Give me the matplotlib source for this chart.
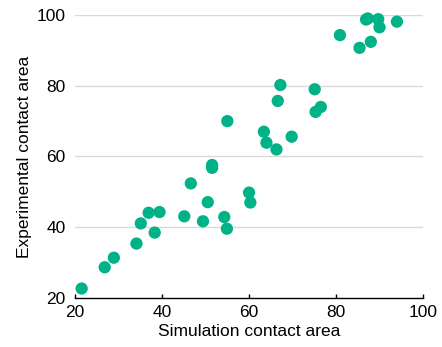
import matplotlib.pyplot as plt

plt.rcParams['font.family'] = ['Liberation Sans', 'DejaVu Sans']

# simulation vs experiment contact areas
sim_area = [21.5, 26.8, 28.9, 34.1, 35.1, 36.9, 38.3, 39.4, 45.1, 46.6,
            49.4, 50.5, 51.5, 51.5, 54.3, 54.9, 55.0, 60.0, 60.3, 63.4,
            64.0, 66.3, 66.6, 67.2, 69.8, 75.1, 75.3, 76.5, 80.9, 85.4,
            86.9, 87.3, 88.0, 89.7, 90.0, 94.0]
exp_area = [22.7, 28.7, 31.4, 35.4, 41.1, 44.1, 38.5, 44.3, 43.1, 52.4,
            41.7, 47.1, 57.6, 56.8, 42.9, 39.6, 70.0, 49.8, 47.0, 67.0,
            63.9, 62.0, 75.7, 80.2, 65.6, 79.0, 72.6, 74.0, 94.3, 90.7,
            98.7, 99.0, 92.4, 98.8, 96.5, 98.1]

xticks = [20, 40, 60, 80, 100]
yticks = [20, 40, 60, 80, 100]

fig = plt.figure(figsize=(4.42, 3.47), dpi=100)
ax = fig.add_axes([0.170, 0.141, 0.787, 0.816])

ax.scatter(sim_area, exp_area, s=78, color='#00b288', edgecolors='none',
           zorder=3, clip_on=False)

ax.set_xlim(20, 100)
ax.set_ylim(20, 100)
ax.set_xticks(xticks)
ax.set_yticks(yticks)

# horizontal guide lines only
for yv in yticks[1:]:
    ax.axhline(yv, color='#d9d9d9', lw=1, zorder=1)

for side in ['top', 'right', 'left']:
    ax.spines[side].set_visible(False)
ax.spines['bottom'].set_linewidth(1)
ax.tick_params(axis='x', direction='in', length=3, width=1, pad=5, labelsize=12.5)
ax.tick_params(axis='y', length=0, pad=7, labelsize=12.5)

ax.set_xlabel('Simulation contact area', fontsize=12.5, labelpad=3)
ax.set_ylabel('Experimental contact area', fontsize=12.5, labelpad=3)

fig.savefig('out.png', dpi=100)
